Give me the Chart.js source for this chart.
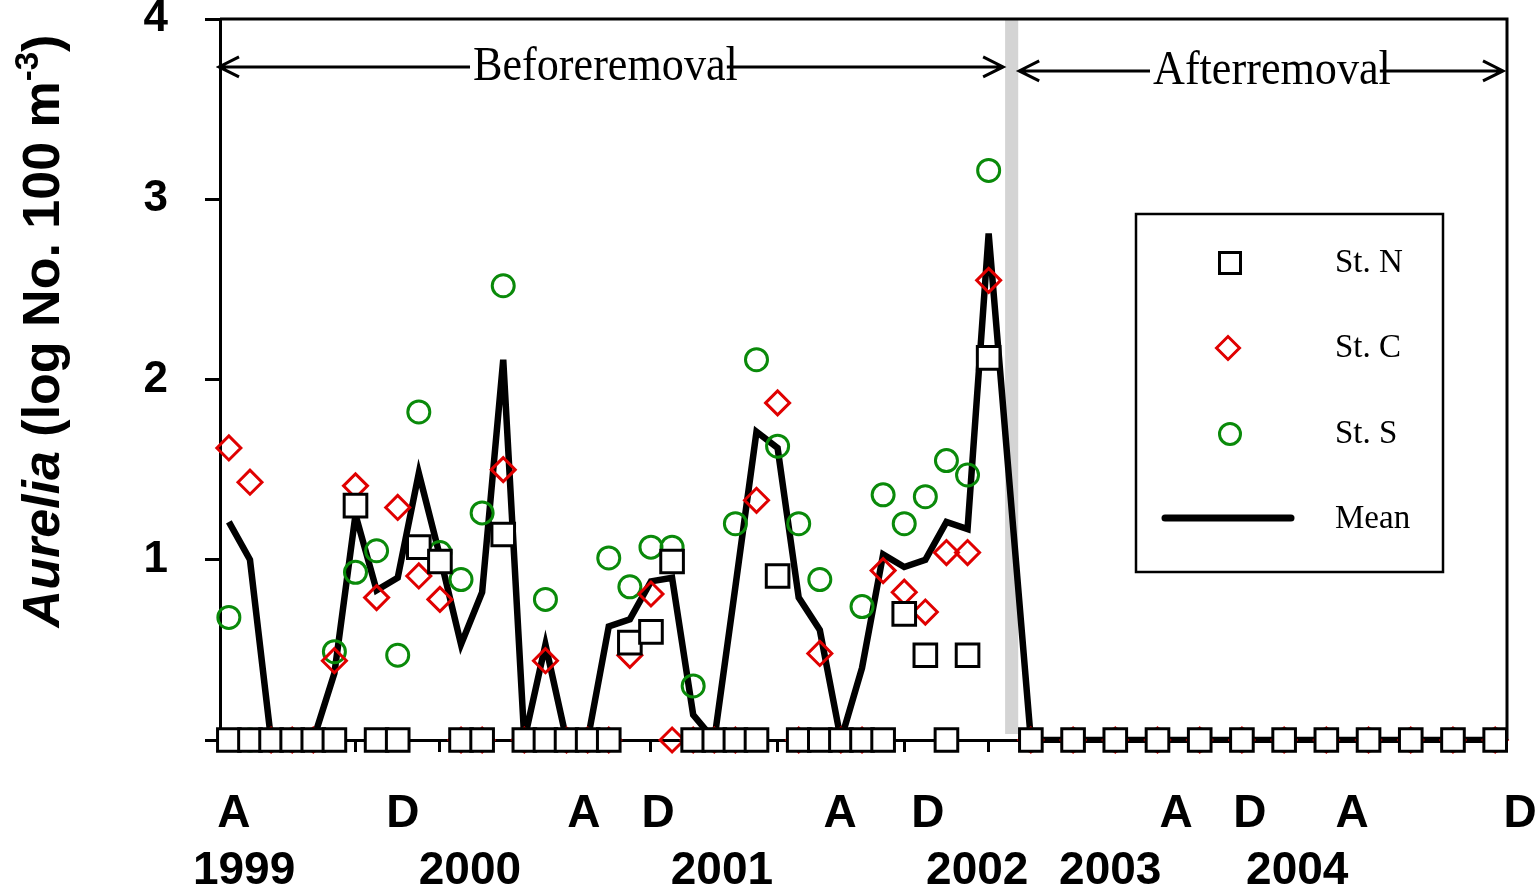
<!DOCTYPE html>
<html>
<head>
<meta charset="utf-8">
<script src="https://cdn.jsdelivr.net/npm/chart.js@4.4.1/dist/chart.umd.min.js"></script>
<style>
  html, body { margin: 0; padding: 0; background: #fff; }
  #wrap { width: 1539px; height: 890px; }
</style>
</head>
<body>
<div id="wrap"><canvas id="myChart" width="1539" height="890"></canvas></div>
<script>
// sampling dates on the time axis (1 unit = 1 tick mark)
const sampleX = [0, 0.5, 1, 1.5, 2, 2.5, 3, 3.5, 4, 4.5, 5, 5.5, 6, 6.5, 7, 7.5, 8, 8.5, 9, 9.5,
  10, 10.5, 11, 11.5, 12, 12.5, 13, 13.5, 14, 14.5, 15, 15.5, 16, 16.5, 17, 17.5, 18,
  19, 20, 21, 22, 23, 24, 25, 26, 27, 28, 29, 30];

// log abundance per station
const stN = [0, 0, 0, 0, 0, 0, 1.30, 0, 0, 1.07, 0.99, 0, 0, 1.14, 0, 0, 0, 0, 0, 0.54,
  0.60, 0.99, 0, 0, 0, 0, 0.91, 0, 0, 0, 0, 0, 0.70, 0.47, 0, 0.47, 2.12,
  0, 0, 0, 0, 0, 0, 0, 0, 0, 0, 0, 0];
const stC = [1.62, 1.43, 0, 0, 0, 0.44, 1.41, 0.79, 1.29, 0.91, 0.78, 0, 0, 1.50, 0, 0.44, 0, 0, 0, 0.47,
  0.81, 0, 0, 0, 0, 1.33, 1.87, 0, 0.48, 0, 0, 0.94, 0.82, 0.71, 1.04, 1.04, 2.55,
  0, 0, 0, 0, 0, 0, 0, 0, 0, 0, 0, 0];
const stS = [0.68, 0, 0, 0, 0, 0.49, 0.93, 1.05, 0.47, 1.82, 1.04, 0.89, 1.26, 2.52, 0, 0.78, 0, 0, 1.01, 0.85,
  1.07, 1.07, 0.30, 0, 1.20, 2.11, 1.63, 1.20, 0.89, 0, 0.74, 1.36, 1.20, 1.35, 1.55, 1.47, 3.16,
  0, 0, 0, 0, 0, 0, 0, 0, 0, 0, 0, 0];
const meanLine = [1.21, 1.00, 0, 0, 0, 0.37, 1.25, 0.83, 0.90, 1.48, 1.02, 0.53, 0.82, 2.11, 0, 0.53, 0, 0, 0.63, 0.67,
  0.88, 0.90, 0.14, 0, 0.85, 1.71, 1.62, 0.79, 0.61, 0, 0.40, 1.03, 0.96, 1.00, 1.21, 1.17, 2.81,
  0, 0, 0, 0, 0, 0, 0, 0, 0, 0, 0, 0];

// labels under the axis
const monthTickX = [0.12, 4.12, 8.41, 10.17, 14.48, 16.56, 22.44, 24.19, 26.61, 30.59];
const monthLabels = ["A", "D", "A", "D", "A", "D", "A", "D", "A", "D"];
const yearTickX = [0.36, 5.71, 11.68, 17.73, 20.88, 25.31];
const yearLabels = ["1999", "2000", "2001", "2002", "2003", "2004"];
const yTicks = [0, 1, 2, 3, 4];

const removalStart = 18.39;
const removalEnd = 18.7;

const legendItems = [
  { text: "St. N", style: "rect" },
  { text: "St. C", style: "diamond" },
  { text: "St. S", style: "circle" },
  { text: "Mean", style: "line" },
];

const SANS = "'Liberation Sans', Arial, sans-serif";
const SERIF = "'Liberation Serif', 'Times New Roman', serif";
const RED = "#e00000";
const GREEN = "#0a8a0a";

function pts(arr) {
  return sampleX.map(function (x, i) { return { x: x, y: arr[i] }; });
}

function drawArrow(ctx, x1, x2, y, label, textX, base) {
  ctx.save();
  ctx.strokeStyle = "#000";
  ctx.lineWidth = 3;
  ctx.beginPath();
  ctx.moveTo(x1, y);
  ctx.lineTo(x2, y);
  ctx.moveTo(x1 + 20, y - 10);
  ctx.lineTo(x1, y);
  ctx.lineTo(x1 + 20, y + 10);
  ctx.moveTo(x2 - 20, y - 10);
  ctx.lineTo(x2, y);
  ctx.lineTo(x2 - 20, y + 10);
  ctx.stroke();
  ctx.font = "48px " + SERIF;
  const w = ctx.measureText(label).width * 0.92;
  ctx.fillStyle = "#fff";
  ctx.fillRect(textX - 3, y - 12, w - 8, 24);
  ctx.translate(textX, base);
  ctx.scale(0.92, 1);
  ctx.fillStyle = "#000";
  ctx.textBaseline = "alphabetic";
  ctx.textAlign = "left";
  ctx.fillText(label, 0, 0);
  ctx.restore();
}

const decoPlugin = {
  id: "deco",
  beforeDatasetsDraw(chart) {
    const ctx = chart.ctx;
    const x = chart.scales.x;
    const area = chart.chartArea;
    // grey band at the removal date
    ctx.save();
    ctx.fillStyle = "#d4d4d4";
    const a = x.getPixelForValue(removalStart);
    const b = x.getPixelForValue(removalEnd);
    ctx.fillRect(a, area.top, b - a, area.bottom - area.top - 6);
    ctx.restore();
  },
  afterDraw(chart) {
    const ctx = chart.ctx;
    const x = chart.scales.x;
    const y = chart.scales.y;
    const area = chart.chartArea;

    // frame top and right
    ctx.save();
    ctx.strokeStyle = "#000";
    ctx.lineWidth = 3;
    ctx.beginPath();
    ctx.moveTo(area.left, area.top);
    ctx.lineTo(area.right, area.top);
    ctx.lineTo(area.right, area.bottom);
    ctx.stroke();
    ctx.restore();

    // before / after arrows
    const a = x.getPixelForValue(removalStart);
    const b = x.getPixelForValue(removalEnd);
    drawArrow(ctx, area.left - 1, a - 2, y.getPixelForValue(3.734), "Beforeremoval", 473, 80);
    drawArrow(ctx, b + 1, area.right - 4, y.getPixelForValue(3.712), "Afterremoval", 1153, 84);

    // legend box
    ctx.save();
    ctx.fillStyle = "#fff";
    ctx.fillRect(1136, 214, 307, 358);
    ctx.strokeStyle = "#000";
    ctx.lineWidth = 2.5;
    ctx.strokeRect(1136, 214, 307, 358);
    const rows = [263, 348, 434, 519];
    legendItems.forEach(function (item, i) {
      const cy = rows[i];
      ctx.beginPath();
      if (item.style === "rect") {
        ctx.strokeStyle = "#000";
        ctx.lineWidth = 3;
        ctx.fillStyle = "#fff";
        ctx.rect(1230 - 10.5, cy - 10.5, 21, 21);
        ctx.fill();
        ctx.stroke();
      } else if (item.style === "diamond") {
        ctx.strokeStyle = RED;
        ctx.lineWidth = 3;
        ctx.moveTo(1228 - 11.5, cy);
        ctx.lineTo(1228, cy - 11.5);
        ctx.lineTo(1228 + 11.5, cy);
        ctx.lineTo(1228, cy + 11.5);
        ctx.closePath();
        ctx.stroke();
      } else if (item.style === "circle") {
        ctx.strokeStyle = GREEN;
        ctx.lineWidth = 3;
        ctx.arc(1230, cy, 10.5, 0, Math.PI * 2);
        ctx.stroke();
      } else {
        ctx.strokeStyle = "#000";
        ctx.lineWidth = 7;
        ctx.lineCap = "round";
        ctx.moveTo(1165, cy - 1);
        ctx.lineTo(1291, cy - 1);
        ctx.stroke();
      }
      ctx.fillStyle = "#000";
      ctx.font = "33px " + SERIF;
      ctx.textBaseline = "middle";
      ctx.textAlign = "left";
      ctx.fillText(item.text, 1335, cy);
    });
    ctx.restore();

    // y axis title with italic genus and superscript
    ctx.save();
    ctx.translate(59, 331);
    ctx.rotate(-Math.PI / 2);
    ctx.fillStyle = "#000";
    ctx.textBaseline = "alphabetic";
    const parts = [
      { t: "Aurelia", f: "italic bold 52px " + SANS, dy: 0 },
      { t: " (log No. 100 m", f: "bold 52px " + SANS, dy: 0 },
      { t: "-3", f: "bold 33px " + SANS, dy: -21 },
      { t: ")", f: "bold 52px " + SANS, dy: 0 },
    ];
    let total = 0;
    parts.forEach(function (p) { ctx.font = p.f; p.w = ctx.measureText(p.t).width; total += p.w; });
    let cx = -total / 2;
    parts.forEach(function (p) {
      ctx.font = p.f;
      ctx.fillText(p.t, cx, p.dy);
      cx += p.w;
    });
    ctx.restore();
  },
};

function zeroPad(s) {
  s.paddingLeft = 0;
  s.paddingRight = 0;
  s.paddingTop = 0;
  s.paddingBottom = 0;
}

const ctx = document.querySelector("#myChart");
const chart = new Chart(ctx, {
  type: "line",
  data: {
    datasets: [
      {
        label: "St. N",
        data: pts(stN),
        showLine: false,
        pointStyle: "rect",
        pointRadius: 16,
        pointBorderWidth: 3,
        pointBorderColor: "#000",
        pointBackgroundColor: "#fff",
        order: 1,
        clip: false,
      },
      {
        label: "St. C",
        data: pts(stC),
        showLine: false,
        pointStyle: "rectRot",
        pointRadius: 12,
        pointBorderWidth: 3,
        pointBorderColor: RED,
        pointBackgroundColor: "rgba(0,0,0,0)",
        order: 2,
        clip: false,
      },
      {
        label: "St. S",
        data: pts(stS),
        showLine: false,
        pointStyle: "circle",
        pointRadius: 11,
        pointBorderWidth: 3,
        pointBorderColor: GREEN,
        pointBackgroundColor: "rgba(0,0,0,0)",
        order: 3,
        clip: false,
      },
      {
        label: "Mean",
        data: pts(meanLine),
        borderColor: "#000",
        borderWidth: 6.5,
        pointRadius: 0,
        tension: 0,
        fill: false,
        order: 4,
        clip: { left: 6, top: 6, right: 6, bottom: 3 },
      },
    ],
  },
  options: {
    responsive: false,
    animation: false,
    events: [],
    layout: { padding: { left: 0, right: 32, top: 18, bottom: 0 } },
    plugins: { legend: { display: false }, tooltip: { enabled: false } },
    scales: {
      x: {
        type: "linear",
        position: "bottom",
        weight: 0,
        min: -0.21,
        max: 30.28,
        bounds: "data",
        afterBuildTicks: function (s) {
          s.ticks = [];
          for (let k = 0; k <= 30; k++) s.ticks.push({ value: k });
        },
        ticks: { display: false, autoSkip: false },
        grid: { drawOnChartArea: false, drawTicks: true, tickLength: 12, tickWidth: 3, tickColor: "#000" },
        border: { display: true, color: "#000", width: 3 },
        afterFit: function (s) { s.height = 12; zeroPad(s); },
      },
      xMonth: {
        type: "linear",
        axis: "x",
        position: "bottom",
        weight: 1,
        min: -0.21,
        max: 30.28,
        bounds: "data",
        afterBuildTicks: function (s) {
          s.ticks = monthTickX.map(function (v) { return { value: v }; });
        },
        ticks: {
          autoSkip: false,
          maxRotation: 0,
          minRotation: 0,
          padding: 35,
          color: "#000",
          font: { family: SANS, size: 46, weight: "bold" },
          callback: function (v, i) { return monthLabels[i]; },
        },
        grid: { display: false, drawTicks: false },
        border: { display: false },
        afterFit: function (s) { s.height = 75; zeroPad(s); },
      },
      xYear: {
        type: "linear",
        axis: "x",
        position: "bottom",
        weight: 2,
        min: -0.21,
        max: 30.28,
        bounds: "data",
        afterBuildTicks: function (s) {
          s.ticks = yearTickX.map(function (v) { return { value: v }; });
        },
        ticks: {
          autoSkip: false,
          maxRotation: 0,
          minRotation: 0,
          padding: 17,
          color: "#000",
          font: { family: SANS, size: 46, weight: "bold" },
          callback: function (v, i) { return yearLabels[i]; },
        },
        grid: { display: false, drawTicks: false },
        border: { display: false },
        afterFit: function (s) { s.height = 63; zeroPad(s); },
      },
      y: {
        type: "linear",
        min: 0,
        max: 4,
        afterBuildTicks: function (s) {
          s.ticks = yTicks.map(function (v) { return { value: v }; });
        },
        ticks: {
          padding: 37,
          color: "#000",
          font: { family: SANS, size: 44, weight: "bold" },
          callback: function (v) { return v === 0 ? "" : String(v); },
        },
        grid: { drawOnChartArea: false, drawTicks: true, tickLength: 15, tickWidth: 3, tickColor: "#000" },
        border: { display: true, color: "#000", width: 3 },
        afterFit: function (s) { s.width = 220; zeroPad(s); },
      },
    },
  },
  plugins: [decoPlugin],
});
</script>
</body>
</html>
